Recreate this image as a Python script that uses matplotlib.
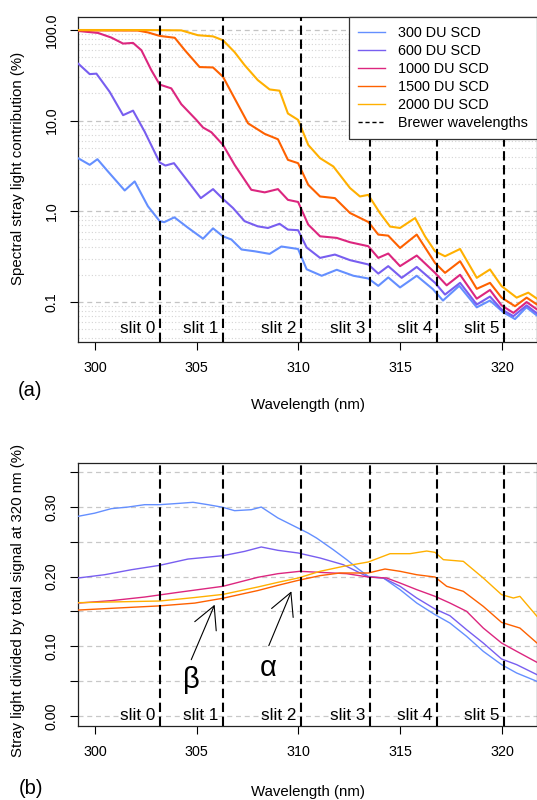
import matplotlib
matplotlib.use("Agg")
import matplotlib.pyplot as plt
from matplotlib.lines import Line2D
import numpy as np

plt.rcParams['font.family'] = ['Liberation Sans', 'DejaVu Sans']

# series colours and labels
labels = ["300 DU SCD", "600 DU SCD", "1000 DU SCD", "1500 DU SCD", "2000 DU SCD"]
colors = ["#648FFF", "#785EF0", "#DC267F", "#FE6100", "#FFB000"]

brewer = [303.2, 306.3, 310.1, 313.5, 316.8, 320.1]
slits = ["slit 0", "slit 1", "slit 2", "slit 3", "slit 4", "slit 5"]

# ---- panel (a): spectral stray light contribution (%)
wl_a300 = [299.17, 299.74, 300.12, 300.64, 301.46, 301.95, 302.6, 303.18, 303.4, 303.9, 304.57, 305.31,
           305.8, 306.29, 306.7, 307.2, 307.85, 308.58, 309.16, 309.98, 310.4, 311.14, 311.88, 312.7,
           313.43, 313.92, 314.41, 314.99, 315.81, 316.6, 317.1, 317.9, 318.76, 319.41, 320.07, 320.64,
           321.2, 321.72]
sl_a300 = [3.86, 3.26, 3.76, 2.75, 1.70, 2.14, 1.14, 0.78, 0.76, 0.86, 0.66, 0.50,
           0.65, 0.53, 0.49, 0.38, 0.363, 0.34, 0.41, 0.385, 0.23, 0.195, 0.227, 0.195,
           0.182, 0.151, 0.187, 0.145, 0.195, 0.139, 0.104, 0.151, 0.0875, 0.104, 0.077, 0.065,
           0.0875, 0.071]

wl_a600 = [299.17, 299.74, 300.07, 300.72, 301.38, 301.87, 302.44, 303.18, 303.46, 303.88, 304.57, 305.2,
           305.8, 306.29, 306.78, 307.35, 308.0, 308.5, 309.07, 309.48, 309.98, 310.4, 311.06, 311.79,
           312.53, 313.43, 313.92, 314.41, 315.07, 315.81, 316.71, 317.2, 317.94, 318.76, 319.41, 319.98,
           320.56, 321.21, 321.72]
sl_a600 = [42.7, 32.6, 33.0, 20.8, 11.5, 12.9, 7.57, 3.46, 3.2, 3.4, 2.14, 1.40,
           1.76, 1.37, 1.09, 0.78, 0.684, 0.656, 0.73, 0.63, 0.62, 0.40, 0.307, 0.334,
           0.29, 0.26, 0.206, 0.249, 0.185, 0.244, 0.163, 0.121, 0.163, 0.094, 0.115, 0.083,
           0.070, 0.092, 0.075]

wl_a1000 = [299.17, 300.15, 300.8, 301.38, 301.87, 302.28, 302.77, 303.18, 303.75, 304.24, 304.98, 305.31,
            305.72, 306.29, 306.86, 307.68, 308.34, 308.99, 309.48, 309.98, 310.48, 311.06, 311.88, 312.53,
            313.43, 313.92, 314.41, 314.99, 315.81, 316.71, 317.28, 317.94, 318.76, 319.41, 319.98, 320.56,
            321.21, 321.72]
sl_a1000 = [97.5, 92.7, 82.5, 70.8, 72.0, 59.8, 36.0, 25.0, 22.7, 15.2, 10.2, 8.4,
            7.45, 5.41, 3.26, 1.73, 1.62, 1.76, 1.34, 1.27, 0.714, 0.531, 0.51, 0.457,
            0.413, 0.307, 0.343, 0.249, 0.326, 0.21, 0.153, 0.20, 0.109, 0.136, 0.092, 0.076,
            0.10, 0.083]

wl_a1500 = [299.17, 302.1, 302.6, 303.18, 303.92, 304.41, 305.14, 305.8, 306.29, 306.86, 307.52, 308.34,
            308.99, 309.48, 309.98, 310.48, 311.06, 311.79, 312.53, 313.43, 313.92, 314.41, 314.99, 315.81,
            316.71, 317.2, 317.94, 318.76, 319.41, 319.98, 320.64, 321.21, 321.72]
sl_a1500 = [99.0, 98.5, 94.0, 86.0, 82.0, 60.0, 39.0, 38.6, 30.5, 17.6, 9.36, 7.15,
            6.24, 3.70, 3.40, 1.96, 1.46, 1.40, 0.96, 0.764, 0.555, 0.54, 0.395, 0.555,
            0.27, 0.21, 0.282, 0.14, 0.163, 0.112, 0.090, 0.112, 0.094]

wl_a2000 = [299.17, 302.5, 304.24, 305.06, 305.8, 306.29, 306.86, 307.35, 308.0, 308.58, 309.07, 309.48,
            309.98, 310.48, 311.06, 311.71, 312.53, 313.02, 313.43, 314.0, 314.5, 314.99, 315.73, 316.22,
            316.71, 317.2, 317.94, 318.76, 319.41, 319.98, 320.72, 321.29, 321.72]
sl_a2000 = [99.9, 99.8, 99.0, 87.5, 85.0, 77.0, 57.0, 41.0, 28.0, 22.1, 21.4, 12.0,
            10.2, 5.4, 3.86, 3.13, 1.81, 1.46, 1.52, 0.96, 0.68, 0.656, 0.845, 0.53,
            0.363, 0.32, 0.385, 0.185, 0.229, 0.15, 0.112, 0.127, 0.109]

# ---- panel (b): stray light / total signal at 320 nm (%)
wl_b300 = [299.17, 299.98, 300.8, 301.62, 302.44, 303.18, 304.08, 304.82, 305.55, 306.29, 306.86, 307.68,
           308.17, 308.99, 309.81, 310.47, 310.89, 311.71, 312.37, 312.94, 313.43, 314.17, 314.99, 315.81,
           316.71, 317.44, 318.26, 319.08, 319.98, 320.72, 321.72]
sl_b300 = [0.2865, 0.291, 0.2975, 0.2998, 0.3032, 0.3032, 0.305, 0.3066, 0.3032, 0.2994, 0.2946, 0.296,
           0.2998, 0.2841, 0.2721, 0.2625, 0.2553, 0.2386, 0.2243, 0.2109, 0.2004, 0.198, 0.1813, 0.1621,
           0.1454, 0.1334, 0.1143, 0.0928, 0.0737, 0.0617, 0.0497]

wl_b600 = [299.17, 300.47, 301.79, 303.18, 304.57, 306.29, 307.35, 308.17, 308.99, 309.98, 311.06, 312.2,
           313.43, 314.17, 314.99, 315.81, 316.71, 317.44, 318.26, 319.08, 319.98, 320.72, 321.72]
sl_b600 = [0.198, 0.2027, 0.2099, 0.2162, 0.2252, 0.2300, 0.2362, 0.2425, 0.2377, 0.2339, 0.2267, 0.2171,
           0.1994, 0.198, 0.1861, 0.1693, 0.1535, 0.1439, 0.1238, 0.1047, 0.0818, 0.0737, 0.0593]

wl_b1000 = [299.17, 300.8, 302.44, 304.08, 306.29, 308.0, 308.99, 310.07, 311.06, 312.37, 313.43, 314.33,
            314.99, 315.81, 316.71, 317.44, 318.26, 319.08, 319.98, 320.72, 321.72]
sl_b1000 = [0.162, 0.1655, 0.1707, 0.1774, 0.1861, 0.199, 0.2042, 0.2076, 0.2061, 0.2042, 0.1994, 0.198,
            0.1908, 0.1813, 0.1717, 0.1621, 0.1502, 0.1262, 0.1047, 0.0928, 0.077]

wl_b1500 = [299.17, 300.8, 303.18, 304.9, 306.29, 308.0, 308.99, 309.98, 311.06, 312.04, 313.43, 314.25,
            314.99, 315.81, 316.71, 317.28, 318.1, 319.08, 319.98, 320.88, 321.72]
sl_b1500 = [0.152, 0.1545, 0.158, 0.162, 0.169, 0.180, 0.1875, 0.1946, 0.2014, 0.2052, 0.2052, 0.2109,
            0.2076, 0.2027, 0.1994, 0.1861, 0.1789, 0.1573, 0.1343, 0.1262, 0.1047]

wl_b2000 = [299.17, 300.8, 303.18, 304.9, 306.29, 308.0, 308.99, 309.98, 311.06, 312.2, 313.43, 314.5,
            315.48, 316.3, 316.71, 317.12, 318.1, 319.08, 319.98, 320.56, 320.88, 321.72]
sl_b2000 = [0.1626, 0.1636, 0.165, 0.170, 0.1745, 0.1851, 0.1918, 0.198, 0.2076, 0.2147, 0.221, 0.2329,
            0.2329, 0.2367, 0.2348, 0.2243, 0.2219, 0.198, 0.1741, 0.1693, 0.1717, 0.143]

top_wl = [wl_a300, wl_a600, wl_a1000, wl_a1500, wl_a2000]
top_sl = [sl_a300, sl_a600, sl_a1000, sl_a1500, sl_a2000]
bot_wl = [wl_b300, wl_b600, wl_b1000, wl_b1500, wl_b2000]
bot_sl = [sl_b300, sl_b600, sl_b1000, sl_b1500, sl_b2000]

W, H = 537, 800
fig = plt.figure(figsize=(W / 100, H / 100), dpi=100)

def box(l, t, r, b):
    return [l / W, 1 - b / H, (r - l) / W, (b - t) / H]

xlim = (299.165, 321.72)
tick_kw = dict(direction='out', length=5.8, width=0.8, labelsize=10.3, pad=8)
dash = (4.5, 2.2)

# ---------- (a)
ax1 = fig.add_axes(box(78, 17, 537, 342))
ax1.set_yscale('log')
ax1.set_xlim(*xlim)
ax1.set_ylim(0.0363, 139)
for dec in [0.01, 0.1, 1, 10]:
    for m in range(2, 10):
        ax1.axhline(dec * m, color='#d4d4d4', lw=0.8, ls=(0, (1, 2)), zorder=1)
for dec in [0.1, 1, 10, 100]:
    ax1.axhline(dec, color='#c4c4c4', lw=0.9, ls=(0, (4, 3)), zorder=1)
for xs, ys, c in zip(top_wl, top_sl, colors):
    ax1.plot(xs, ys, color=c, lw=1.5, zorder=3, solid_joinstyle='round', solid_capstyle='round')
for b, s in zip(brewer, slits):
    ax1.axvline(b, color='black', lw=1.5, ls=(0, dash), zorder=4)
    ax1.text(b - 0.22, 0.0505, s, ha='right', va='center', fontsize=12.3, zorder=5)
ax1.set_yticks([0.1, 1, 10, 100])
ax1.set_yticklabels(["0.1", "1.0", "10.0", "100.0"], rotation=90, va='center')
ax1.minorticks_off()
ax1.set_xticks([300, 305, 310, 315, 320])
ax1.tick_params(**tick_kw)

handles = [Line2D([], [], color=c, lw=1.0) for c in colors]
handles.append(Line2D([], [], color='black', lw=1.0, ls=(0, (3, 2))))
leg = ax1.legend(handles, labels + ["Brewer wavelengths"], loc='upper right', fontsize=10.4,
                 frameon=True, fancybox=False, framealpha=1, borderaxespad=0, handlelength=1.85,
                 handletextpad=0.9, labelspacing=0.27, borderpad=0.65)
leg.get_frame().set_edgecolor('#333333')
leg.get_frame().set_linewidth(0.9)
leg.set_zorder(10)

# ---------- (b)
ax2 = fig.add_axes(box(78, 463, 537, 725.7))
ax2.set_xlim(*xlim)
ax2.set_ylim(-0.0139, 0.363)
for g in np.arange(0, 0.36, 0.05):
    ax2.axhline(g, color='#c8c8c8', lw=0.9, ls=(0, (4, 3)), zorder=1)
for xs, ys, c in zip(bot_wl, bot_sl, colors):
    ax2.plot(xs, ys, color=c, lw=1.0, zorder=3)
for b, s in zip(brewer, slits):
    ax2.axvline(b, color='black', lw=1.5, ls=(0, dash), zorder=4)
    ax2.text(b - 0.22, 0.001, s, ha='right', va='center', fontsize=12.3, zorder=5)
yt = np.arange(0, 0.36, 0.05)
ax2.set_yticks(yt)
ax2.set_yticklabels(["%.2f" % v if i % 2 == 0 else "" for i, v in enumerate(yt)], rotation=90, va='center')
ax2.set_xticks([300, 305, 310, 315, 320])
ax2.tick_params(**tick_kw)

arrow = dict(arrowstyle='->,head_length=0.8,head_width=0.42', lw=0.8, color='black',
             mutation_scale=20, shrinkA=0, shrinkB=0)
ax2.annotate('', xy=(305.88, 0.1597), xytext=(304.73, 0.0808), arrowprops=arrow)
ax2.annotate('', xy=(309.65, 0.1789), xytext=(308.54, 0.1009), arrowprops=arrow)
ax2.text(304.73, 0.052, "β", fontsize=21, ha='center', va='center')
ax2.text(308.5, 0.069, "α", fontsize=21, ha='center', va='center')

for ax in (ax1, ax2):
    for sp in ax.spines.values():
        sp.set_linewidth(0.9)
        sp.set_color('#222222')

fig.text(18 / W, 1 - 168 / H, "Spectral stray light contribution (%)", rotation=90,
         ha='center', va='center', fontsize=10.8)
fig.text(18 / W, 1 - 600 / H, "Stray light divided by total signal at 320 nm (%)", rotation=90,
         ha='center', va='center', fontsize=10.8)
fig.text(308 / W, 1 - 405 / H, "Wavelength (nm)", ha='center', va='center', fontsize=10.8)
fig.text(308 / W, 1 - 792 / H, "Wavelength (nm)", ha='center', va='center', fontsize=10.8)
fig.text(30 / W, 1 - 390 / H, "(a)", ha='center', va='center', fontsize=14.5)
fig.text(31 / W, 1 - 788 / H, "(b)", ha='center', va='center', fontsize=14.5)

fig.savefig("out.png", dpi=100)
